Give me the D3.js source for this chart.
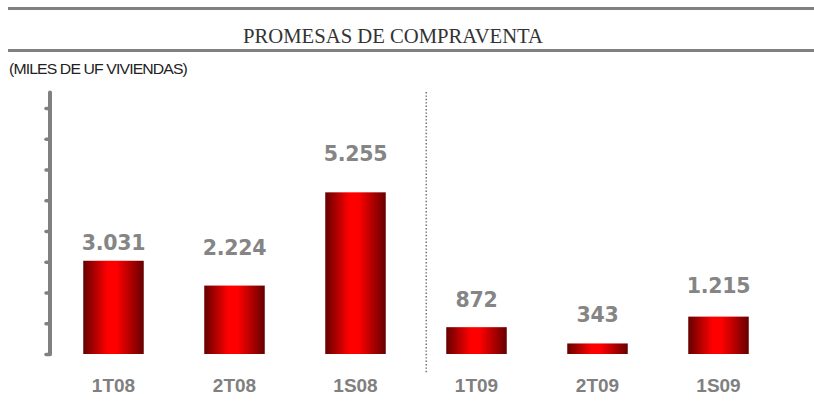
<!DOCTYPE html>
<html>
<head>
<meta charset="utf-8">
<script src="https://cdn.jsdelivr.net/npm/d3@7"></script>
<style>
  body { margin: 0; background: #fff; }
</style>
</head>
<body>
<div id="chart"></div>
<script>
// data (miles de UF)
let periods = ['1T08', '2T08', '1S08', '1T09', '2T09', '1S09'];
let promesas = [3031, 2224, 5255, 872, 343, 1215];
let valueLabels = ['3.031', '2.224', '5.255', '872', '343', '1.215'];
let axisTicks = [0, 1000, 2000, 3000, 4000, 5000, 6000, 7000, 8000];

// label lift above each bar top (layout only)
let labelGap = [11, 31, 31, 20, 21, 24];

let width = 814;
let height = 412;

let svg = d3.select('#chart')
    .append('svg')
    .attr('width', width)
    .attr('height', height);

// gradient for the bars, dark edges and bright middle
let grad = svg.append('defs').append('linearGradient')
    .attr('id', 'barGrad')
    .attr('x1', '0%').attr('x2', '100%')
    .attr('y1', '0%').attr('y2', '0%');
grad.append('stop').attr('offset', '0%').attr('stop-color', '#660000');
grad.append('stop').attr('offset', '40%').attr('stop-color', '#ff0000');
grad.append('stop').attr('offset', '55%').attr('stop-color', '#ff0000');
grad.append('stop').attr('offset', '100%').attr('stop-color', '#660000');

// header rules
svg.append('rect').attr('x', 8).attr('y', 7).attr('width', width - 8).attr('height', 3).style('fill', '#808080');
svg.append('rect').attr('x', 8).attr('y', 49).attr('width', width - 8).attr('height', 3).style('fill', '#808080');

svg.append('text')
    .text('PROMESAS DE COMPRAVENTA')
    .attr('x', 393)
    .attr('y', 43)
    .attr('text-anchor', 'middle')
    .attr('textLength', 300)
    .attr('lengthAdjust', 'spacingAndGlyphs')
    .style('font-family', '"Liberation Serif", "Times New Roman", serif')
    .style('font-size', '20px')
    .style('fill', '#333');

svg.append('text')
    .text('(MILES DE UF VIVIENDAS)')
    .attr('x', 9)
    .attr('y', 74)
    .attr('textLength', 178)
    .attr('lengthAdjust', 'spacingAndGlyphs')
    .style('font-family', '"Liberation Sans Narrow", "Liberation Sans", Arial, sans-serif')
    .style('font-size', '14.5px')
    .style('letter-spacing', '-0.8px')
    .style('fill', '#222');

// scales
let x = d3.scaleBand()
    .domain(periods)
    .range([53, 779])
    .paddingInner(0.5)
    .paddingOuter(0.25);

let y = d3.scaleLinear()
    .domain([0, 8500])
    .range([354, 92.5]);

// left axis: thick grey line with short ticks, no labels
let axis = svg.append('g')
    .attr('transform', 'translate(50,0)')
    .call(d3.axisLeft(y).tickValues(axisTicks).tickSize(4).tickFormat(''));
axis.select('.domain').remove();
axis.selectAll('.tick line')
    .style('stroke', '#808080')
    .style('stroke-width', 3.5)
    .style('stroke-linecap', 'round');
axis.append('line')
    .attr('x1', 0).attr('x2', 0)
    .attr('y1', y(8500)).attr('y2', y(0))
    .style('stroke', '#808080')
    .style('stroke-width', 4)
    .style('stroke-linecap', 'round');

// dotted separator between 2008 and 2009 (sits nearer the 2009 bars)
let sepX = x('1T09') - 20;
svg.append('line')
    .attr('x1', sepX).attr('x2', sepX)
    .attr('y1', 92).attr('y2', 374)
    .style('stroke', '#777')
    .style('stroke-width', 1.6)
    .style('stroke-dasharray', '1.4,2')
    .style('stroke-linecap', 'butt');

let bar = svg.selectAll('.bar-group')
    .data(periods)
    .enter()
    .append('g')
    .attr('class', 'bar-group');

bar.append('rect')
    .attr('x', d => x(d))
    .attr('y', (d, i) => y(promesas[i]))
    .attr('width', x.bandwidth())
    .attr('height', (d, i) => y(0) - y(promesas[i]))
    .style('fill', 'url(#barGrad)');

bar.append('text')
    .text((d, i) => valueLabels[i])
    .attr('x', d => x(d) + x.bandwidth() / 2)
    .attr('y', (d, i) => y(promesas[i]) - labelGap[i])
    .attr('text-anchor', 'middle')
    .style('font-family', '"DejaVu Sans", Verdana, sans-serif')
    .style('font-weight', 'bold')
    .style('font-size', '20.5px')
    .style('letter-spacing', '-0.3px')
    .style('fill', '#858585');

bar.append('text')
    .text(d => d)
    .attr('x', d => x(d) + x.bandwidth() / 2)
    .attr('y', 392)
    .attr('text-anchor', 'middle')
    .style('font-family', '"Liberation Sans", Arial, sans-serif')
    .style('font-weight', 'bold')
    .style('font-size', '19px')
    .style('fill', '#808080');
</script>
</body>
</html>
